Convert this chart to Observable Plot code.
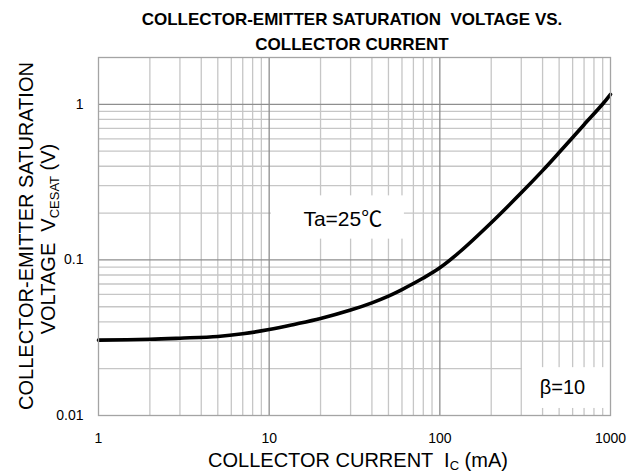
<!DOCTYPE html>
<html>
<head>
<meta charset="utf-8">
<script src="https://cdn.jsdelivr.net/npm/d3@7"></script>
<script src="https://cdn.jsdelivr.net/npm/@observablehq/plot@0.6"></script>
<style>
  html, body { margin: 0; padding: 0; background: white; }
  #chart svg { display: block; }
</style>
</head>
<body>
<div id="chart"></div>
<script>
// ---- data ----
const currentMA = [1, 2, 3, 5, 7, 10, 14, 20, 30, 40, 50, 60, 80, 100, 130, 200, 300, 400, 500, 600, 700, 900, 1000];
const vcesatV   = [0.0305, 0.0309, 0.0314, 0.0322, 0.0335, 0.0357, 0.0385, 0.042, 0.0476, 0.053, 0.0585, 0.0645, 0.0765, 0.089, 0.112, 0.1735, 0.27, 0.375, 0.49, 0.612, 0.74, 1.005, 1.16];

const xTicks = [1, 10, 100, 1000];
const xTickLabels = ["1", "10", "100", "1000"];
const yTicks = [0.01, 0.1, 1];
const yTickLabels = ["0.01", "0.1", "1"];

const xMinorGrid = [2, 3, 4, 5, 6, 7, 8, 9, 20, 30, 40, 50, 60, 70, 80, 90, 200, 300, 400, 500, 600, 700, 800, 900];
const xMajorGrid = [10, 100];
const yMinorGrid = [0.02, 0.03, 0.04, 0.05, 0.06, 0.07, 0.08, 0.09, 0.2, 0.3, 0.4, 0.5, 0.6, 0.7, 0.8, 0.9];
const yMajorGrid = [0.1, 1];

const noteText = ["Ta=25\u2103", "\u03b2=10"];
const noteX = [27, 523];
const noteY = [0.182, 0.0152];
const noteBoxX1 = [10.3, 305];
const noteBoxX2 = [62, 1000];
const noteBoxY1 = [0.136, 0.0111];
const noteBoxY2 = [0.258, 0.0203];

const titleLines = ["COLLECTOR-EMITTER SATURATION  VOLTAGE VS.", "COLLECTOR CURRENT"];

// ---- tables built from the arrays ----
const curve = currentMA.map((x, i) => ({x, y: vcesatV[i]}));
const notes = noteText.map((t, i) => ({t, x: noteX[i], y: noteY[i]}));
const boxes = noteBoxX1.map((x1, i) => ({x1, x2: noteBoxX2[i], y1: noteBoxY1[i], y2: noteBoxY2[i]}));

const chart = Plot.plot({
  width: 644,
  height: 475,
  marginTop: 57,
  marginRight: 34,
  marginBottom: 60,
  marginLeft: 98,
  style: {fontFamily: "'Liberation Sans', Arial, sans-serif", background: "white", color: "black"},
  x: {type: "log", domain: [1, 1000]},
  y: {type: "log", domain: [0.01, 2]},
  marks: [
    Plot.ruleX(xMinorGrid, {stroke: "#c6c6c6", strokeWidth: 1.3}),
    Plot.ruleY(yMinorGrid, {stroke: "#c6c6c6", strokeWidth: 1.3}),
    Plot.ruleX(xMajorGrid, {stroke: "#8e8e8e", strokeWidth: 1.3}),
    Plot.ruleY(yMajorGrid, {stroke: "#8e8e8e", strokeWidth: 1.3}),
    Plot.rect(boxes, {x1: "x1", x2: "x2", y1: "y1", y2: "y2", fill: "white"}),
    Plot.line(curve, {x: "x", y: "y", stroke: "black", strokeWidth: 3.6, curve: "catmull-rom"}),
    Plot.text(notes.slice(0, 1), {x: "x", y: "y", text: "t", fontSize: 21, fill: "black", textAnchor: "middle", fontFamily: "'Liberation Sans', 'Noto Sans CJK SC', sans-serif"}),
    Plot.text(notes.slice(1), {x: "x", y: "y", text: "t", fontSize: 20, fill: "black", textAnchor: "middle"}),
    Plot.frame({stroke: "#a4a4a4", strokeWidth: 1.3}),
    Plot.axisX({ticks: xTicks, tickSize: 0, tickPadding: 18, tickFormat: (d) => xTickLabels[xTicks.indexOf(d)], fontSize: 14, label: null}),
    Plot.axisY({ticks: yTicks, tickSize: 0, tickPadding: 15, tickFormat: (d) => yTickLabels[yTicks.indexOf(d)], fontSize: 14, label: null})
  ]
});

document.getElementById("chart").appendChild(chart);

// ---- titles and axis labels (with subscripts) ----
const svg = d3.select(chart);
const titleG = svg.append("g")
  .attr("font-family", "'Liberation Sans Narrow', 'Liberation Sans', Arial, sans-serif")
  .attr("font-weight", "bold")
  .attr("font-size", 17)
  .attr("text-anchor", "middle")
  .style("white-space", "pre");
titleG.append("text").attr("x", 352).attr("y", 25).text(titleLines[0]);
titleG.append("text").attr("x", 352).attr("y", 50).text(titleLines[1]);

const labFont = "'Liberation Sans', Arial, sans-serif";
// x label
const xl = svg.append("text")
  .attr("x", 358).attr("y", 467)
  .attr("text-anchor", "middle")
  .attr("font-family", labFont).attr("font-size", 20)
  .style("white-space", "pre");
xl.append("tspan").text("COLLECTOR CURRENT  I");
xl.append("tspan").attr("font-size", 13).attr("dy", 3).text("C");
xl.append("tspan").attr("dy", -3).text(" (mA)");

// y label, two rotated lines
svg.append("text")
  .attr("transform", "translate(33,236) rotate(-90)")
  .attr("text-anchor", "middle")
  .attr("font-family", labFont).attr("font-size", 20)
  .style("white-space", "pre")
  .text("COLLECTOR-EMITTER SATURATION");
const yl2 = svg.append("text")
  .attr("transform", "translate(55,239) rotate(-90)")
  .attr("text-anchor", "middle")
  .attr("font-family", labFont).attr("font-size", 20)
  .style("white-space", "pre");
yl2.append("tspan").text("VOLTAGE  V");
yl2.append("tspan").attr("font-size", 13).attr("dy", 4).text("CESAT");
yl2.append("tspan").attr("dy", -4).text(" (V)");
</script>
</body>
</html>
